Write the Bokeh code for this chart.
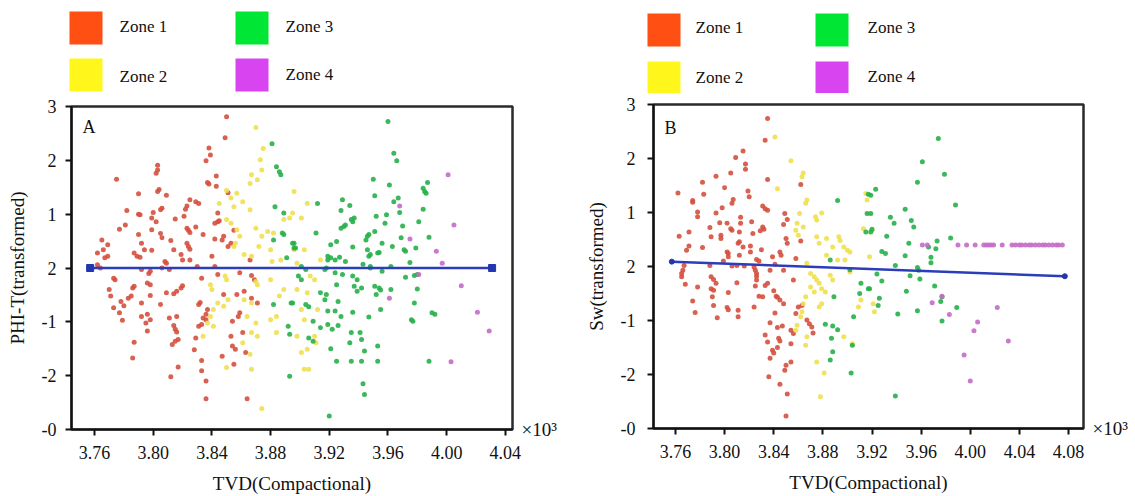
from bokeh.plotting import figure
from bokeh.layouts import row, column
from bokeh.models import Range1d, FixedTicker, PrintfTickFormatter, Label, LinearAxis
from bokeh.embed import file_html
from bokeh.resources import INLINE
from bokeh.core.properties import value

FONT = "Liberation Serif"

zones = ["Zone 1", "Zone 2", "Zone 3", "Zone 4"]
legend_colors = ["#FF4F12", "#FFF71C", "#00E635", "#D845F0"]
point_colors = ["#D5503E", "#F0E04E", "#27B04A", "#C46BC8"]

x_ticks_a = [3.76, 3.80, 3.84, 3.88, 3.92, 3.96, 4.00, 4.04]
x_ticks_b = [3.76, 3.80, 3.84, 3.88, 3.92, 3.96, 4.00, 4.04, 4.08]
y_ticks = [-3, -2, -1, 0, 1, 2, 3]
y_tick_labels = ["-0", "-2", "-1", "2", "1", "2", "3"]
x_scale_note = "×10³"

# ---------------- Panel A : PHI-T(transformed) vs TVD ----------------
a_zone1 = [
    (3.850, 2.81), (3.849, 2.42), (3.838, 2.23), (3.839, 2.10), (3.836, 1.99), (3.803, 1.91),
    (3.803, 1.82), (3.802, 1.76), (3.775, 1.65), (3.837, 1.59), (3.838, 1.56), (3.843, 1.71),
    (3.843, 1.52), (3.804, 1.46), (3.803, 1.42), (3.790, 1.38), (3.809, 1.35), (3.851, 1.40),
    (3.825, 1.27), (3.829, 1.23), (3.831, 1.20), (3.823, 1.15), (3.822, 1.09), (3.806, 1.11),
    (3.805, 1.08), (3.782, 1.07), (3.790, 1.00), (3.791, 0.99), (3.800, 1.03), (3.799, 0.93),
    (3.815, 0.91), (3.821, 0.96), (3.844, 1.02), (3.844, 0.86), (3.842, 0.83), (3.845, 0.88),
    (3.802, 0.86), (3.781, 0.80), (3.777, 0.72), (3.823, 0.74), (3.824, 0.70), (3.825, 0.66),
    (3.829, 0.76), (3.799, 0.71), (3.805, 0.64), (3.806, 0.56), (3.790, 0.62), (3.834, 0.62),
    (3.855, 0.70), (3.848, 0.59), (3.847, 0.52), (3.842, 0.54), (3.812, 0.51), (3.823, 0.46),
    (3.824, 0.40), (3.825, 0.35), (3.853, 0.46), (3.851, 0.40), (3.765, 0.52), (3.766, 0.34),
    (3.769, 0.43), (3.762, 0.28), (3.792, 0.46), (3.794, 0.34), (3.799, 0.33), (3.787, 0.28),
    (3.789, 0.22), (3.791, 0.20), (3.767, 0.19), (3.769, 0.22), (3.814, 0.34), (3.819, 0.25),
    (3.820, 0.15), (3.825, 0.15), (3.840, 0.22), (3.808, 0.12), (3.809, 0.09), (3.830, 0.03),
    (3.842, 0.03), (3.762, 0.06), (3.764, 0.00), (3.792, -0.03), (3.798, -0.06), (3.797, -0.10),
    (3.806, 0.00), (3.811, -0.03), (3.833, -0.19), (3.844, -0.12), (3.859, -0.09), (3.867, -0.14),
    (3.869, -0.22), (3.866, 0.15), (3.773, -0.19), (3.774, -0.22), (3.787, -0.34), (3.786, -0.37),
    (3.796, -0.28), (3.798, -0.31), (3.820, -0.33), (3.819, -0.37), (3.816, -0.43), (3.814, -0.48),
    (3.809, -0.46), (3.770, -0.40), (3.771, -0.52), (3.778, -0.62), (3.780, -0.70), (3.783, -0.56),
    (3.785, -0.52), (3.792, -0.65), (3.798, -0.51), (3.805, -0.68), (3.832, -0.64), (3.831, -0.68),
    (3.837, -0.77), (3.836, -0.86), (3.836, -0.96), (3.848, -0.49), (3.857, -0.49), (3.862, -0.43),
    (3.867, -0.56), (3.871, -0.65), (3.773, -0.74), (3.777, -0.83), (3.779, -0.97), (3.792, -0.90),
    (3.796, -0.86), (3.795, -1.02), (3.798, -0.96), (3.796, -1.17), (3.811, -0.93), (3.816, -0.90),
    (3.814, -1.07), (3.815, -1.14), (3.816, -1.19), (3.817, -1.33), (3.815, -1.36), (3.813, -1.42),
    (3.834, -0.93), (3.833, -1.05), (3.831, -1.08), (3.829, -1.30), (3.854, -0.99), (3.858, -0.90),
    (3.859, -0.83), (3.861, -1.20), (3.853, -1.27), (3.854, -1.45), (3.856, -1.51), (3.863, -1.57),
    (3.787, -1.38), (3.786, -1.67), (3.828, -1.52), (3.847, -1.64), (3.855, -1.79), (3.817, -1.84),
    (3.812, -2.02), (3.833, -1.72), (3.833, -1.91), (3.836, -2.10), (3.836, -2.43), (3.864, -2.43),
]
a_zone2 = [
    (3.870, 2.61), (3.875, 2.22), (3.873, 2.01), (3.874, 1.82), (3.867, 1.73), (3.871, 1.64),
    (3.866, 1.57), (3.850, 1.44), (3.853, 1.30), (3.857, 1.39), (3.861, 1.23), (3.866, 1.08),
    (3.855, 1.14), (3.845, 1.20), (3.850, 0.90), (3.853, 0.83), (3.857, 0.71), (3.859, 0.59),
    (3.856, 0.46), (3.855, 0.40), (3.870, 0.74), (3.878, 0.68), (3.882, 0.65), (3.874, 0.59),
    (3.889, 0.90), (3.893, 0.93), (3.872, 0.40), (3.880, 0.34), (3.887, 0.15), (3.862, 0.25),
    (3.867, 0.22), (3.881, 0.12), (3.849, -0.15), (3.850, -0.22), (3.870, -0.25), (3.871, -0.31),
    (3.839, -0.31), (3.840, -0.40), (3.851, -0.59), (3.862, -0.59), (3.867, -0.65), (3.880, -0.22),
    (3.886, -0.52), (3.889, -0.40), (3.844, -0.65), (3.841, -0.77), (3.848, -0.71), (3.864, -0.90),
    (3.870, -1.02), (3.884, -0.90), (3.839, -0.90), (3.837, -1.02), (3.841, -1.08), (3.834, -1.27),
    (3.867, -1.20), (3.871, -1.27), (3.861, -1.39), (3.866, -1.60), (3.850, -1.85), (3.867, -1.88),
    (3.874, -2.61), (3.880, -0.96), (3.884, -1.20),
    (3.896, 1.42), (3.895, 1.02), (3.901, 0.93), (3.905, 1.20), (3.896, 0.34), (3.903, 0.34),
    (3.898, 0.09), (3.907, -0.15), (3.910, -0.22), (3.914, 0.15), (3.898, -0.40), (3.905, -0.46),
    (3.901, -0.77), (3.903, -0.96), (3.898, -1.27), (3.910, -1.27), (3.911, -1.39), (3.905, -1.51),
    (3.903, -1.88), (3.906, -1.88), (3.912, -0.77), (3.901, -1.57),
]
a_zone3 = [
    (3.881, 2.31), (3.884, 1.88), (3.886, 1.79), (3.887, 1.73), (3.883, 1.14), (3.889, 1.02),
    (3.888, 0.65), (3.889, 0.62), (3.882, 0.52), (3.895, 0.46), (3.896, 0.37), (3.891, 0.19),
    (3.895, -0.65), (3.882, -0.68), (3.892, -1.08), (3.893, -1.23), (3.893, -2.01),
    (3.960, 2.72), (3.964, 2.13), (3.966, 1.99), (3.950, 1.65), (3.961, 1.54), (3.951, 1.34),
    (3.964, 1.23), (3.967, 1.30), (3.912, 1.20), (3.929, 1.27), (3.934, 1.16), (3.928, 1.07),
    (3.968, 1.03), (3.984, 1.48), (3.985, 1.42), (3.986, 1.39), (3.987, 1.59), (3.984, 1.09),
    (3.935, 0.90), (3.937, 0.93), (3.936, 0.86), (3.928, 0.74), (3.930, 0.77), (3.931, 0.80),
    (3.952, 0.96), (3.959, 0.99), (3.958, 0.83), (3.970, 0.78), (3.981, 0.86), (3.911, 0.65),
    (3.946, 0.59), (3.945, 0.52), (3.947, 0.62), (3.951, 0.68), (3.896, 0.46), (3.897, 0.37),
    (3.921, 0.43), (3.919, 0.22), (3.925, 0.49), (3.936, 0.39), (3.946, 0.34), (3.948, 0.25),
    (3.947, 0.22), (3.953, 0.28), (3.954, 0.29), (3.963, 0.40), (3.956, 0.46), (3.969, 0.56),
    (3.971, 0.34), (3.972, 0.31), (3.979, 0.37), (3.988, 0.57), (3.919, 0.15), (3.921, 0.19),
    (3.924, 0.15), (3.927, 0.20), (3.931, 0.12), (3.943, 0.07), (3.948, 0.03), (3.948, 0.00),
    (3.956, -0.06), (3.962, 0.03), (3.975, 0.10), (3.980, -0.12), (3.978, -0.14), (3.972, -0.17),
    (3.901, 0.03), (3.904, -0.03), (3.899, -0.15), (3.901, -0.22), (3.917, -0.03), (3.918, 0.00),
    (3.924, -0.09), (3.929, -0.12), (3.936, -0.15), (3.939, -0.22), (3.937, -0.34), (3.942, -0.37),
    (3.939, -0.43), (3.925, -0.31), (3.951, -0.34), (3.954, -0.37), (3.955, -0.41), (3.952, -0.49),
    (3.962, -0.40), (3.980, -0.39), (3.894, -0.65), (3.904, -0.68), (3.906, -0.72), (3.914, -0.46),
    (3.917, -0.59), (3.918, -0.49), (3.926, -0.62), (3.936, -0.82), (3.947, -0.91), (3.955, -0.77),
    (3.978, -0.65), (3.990, -0.83), (3.992, -0.86), (3.976, -0.96), (3.977, -0.99), (3.909, -0.99),
    (3.914, -1.11), (3.919, -0.80), (3.924, -0.80), (3.919, -1.05), (3.922, -1.14), (3.926, -1.07),
    (3.928, -0.90), (3.906, -1.30), (3.909, -1.36), (3.935, -1.20), (3.941, -1.20), (3.942, -1.33),
    (3.934, -1.39), (3.953, -1.45), (3.944, -1.54), (3.921, -1.50), (3.925, -1.73), (3.935, -1.73),
    (3.942, -1.73), (3.953, -1.73), (3.988, -1.73), (3.943, -2.15), (3.944, -2.35), (3.920, -2.75),
]
a_zone4 = [
    (4.001, 1.73), (4.005, 0.80), (3.968, 1.15), (3.975, 0.54), (3.993, 0.31), (3.997, 0.09),
    (3.981, -0.12), (3.961, -0.56), (4.010, -0.33), (4.021, -0.82), (4.029, -1.17), (4.003, -1.74),
]
fit_a_x = [3.757, 4.031]
fit_a_y = [0.0, 0.0]

# ---------------- Panel B : Sw(transformed) vs TVD ----------------
b_zone1 = [
    (3.835, 2.74), (3.833, 2.34), (3.815, 2.14), (3.809, 2.02), (3.817, 1.90), (3.817, 1.80),
    (3.805, 1.73), (3.793, 1.67), (3.782, 1.56), (3.835, 1.61), (3.762, 1.36), (3.783, 1.34),
    (3.774, 1.22), (3.774, 1.19), (3.800, 1.46), (3.819, 1.40), (3.820, 1.29), (3.807, 1.24),
    (3.806, 1.17), (3.798, 1.09), (3.778, 1.01), (3.778, 0.92), (3.793, 0.99), (3.831, 1.12),
    (3.833, 1.07), (3.835, 1.04), (3.849, 0.98), (3.851, 0.87), (3.848, 0.78), (3.813, 0.91),
    (3.813, 0.80), (3.802, 0.80), (3.796, 0.81), (3.822, 0.83), (3.788, 0.72), (3.789, 0.55),
    (3.771, 0.64), (3.763, 0.56), (3.797, 0.58), (3.797, 0.52), (3.805, 0.70), (3.806, 0.67),
    (3.812, 0.64), (3.831, 0.73), (3.832, 0.69), (3.829, 0.66), (3.823, 0.61), (3.850, 0.52),
    (3.851, 0.43), (3.812, 0.46), (3.811, 0.43), (3.782, 0.35), (3.771, 0.38), (3.769, 0.30),
    (3.802, 0.27), (3.803, 0.24), (3.803, 0.18), (3.815, 0.36), (3.821, 0.38), (3.821, 0.27),
    (3.830, 0.31), (3.845, 0.27), (3.846, 0.21), (3.862, 0.47), (3.858, 0.15), (3.826, 0.13),
    (3.828, 0.10), (3.799, 0.10), (3.812, 0.21), (3.788, 0.02), (3.806, 0.01), (3.810, 0.02),
    (3.816, 0.01), (3.824, -0.01), (3.839, 0.18), (3.841, 0.04), (3.767, 0.02), (3.766, -0.07),
    (3.765, -0.13), (3.765, -0.19), (3.768, -0.33), (3.789, -0.19), (3.791, -0.24), (3.793, -0.31),
    (3.778, -0.38), (3.789, -0.41), (3.791, -0.44), (3.803, -0.48), (3.810, -0.30), (3.825, -0.07),
    (3.826, -0.13), (3.826, -0.18), (3.826, -0.25), (3.825, -0.36), (3.833, -0.35), (3.835, -0.31),
    (3.837, -0.07), (3.848, -0.07), (3.856, -0.25), (3.828, -0.55), (3.831, -0.56), (3.840, -0.45),
    (3.842, -0.55), (3.843, -0.57), (3.845, -0.62), (3.848, -0.69), (3.790, -0.56), (3.774, -0.64),
    (3.791, -0.72), (3.776, -0.85), (3.794, -0.95), (3.802, -0.76), (3.803, -0.80), (3.811, -0.81),
    (3.811, -0.93), (3.824, -0.75), (3.860, -0.75), (3.863, -0.72), (3.858, -0.87), (3.841, -0.86),
    (3.837, -1.04), (3.843, -1.13), (3.847, -1.10), (3.854, -1.18), (3.856, -1.24), (3.867, -0.99),
    (3.869, -1.06), (3.871, -1.12), (3.872, -1.23), (3.833, -1.27), (3.835, -1.40), (3.844, -1.33),
    (3.845, -1.38), (3.854, -1.43), (3.839, -1.55), (3.840, -1.60), (3.837, -1.70), (3.836, -2.04),
    (3.843, -1.50), (3.854, -1.77), (3.850, -1.83), (3.849, -1.92), (3.845, -2.18), (3.851, -2.36),
    (3.850, -2.77), (3.862, 1.52),
]
b_zone2 = [
    (3.841, 2.40), (3.854, 1.96), (3.864, 1.73), (3.863, 1.66), (3.843, 1.44), (3.867, 1.23),
    (3.866, 1.17), (3.861, 0.98), (3.874, 0.92), (3.875, 0.86), (3.879, 0.99), (3.859, 0.80),
    (3.858, 0.67), (3.864, 0.73), (3.860, 0.58), (3.875, 0.55), (3.877, 0.43), (3.883, 0.52),
    (3.893, 0.55), (3.894, 0.48), (3.897, 0.36), (3.900, 0.30), (3.902, 0.27), (3.888, 0.36),
    (3.883, 0.21), (3.892, 0.12), (3.898, 0.12), (3.915, 1.35), (3.916, 1.23), (3.913, 0.70),
    (3.867, 0.06), (3.870, -0.13), (3.873, -0.19), (3.875, -0.25), (3.877, -0.31), (3.879, -0.41),
    (3.882, -0.47), (3.870, -0.38), (3.873, -0.47), (3.866, -0.56), (3.886, -0.16), (3.888, -0.25),
    (3.902, -0.10), (3.864, -0.69), (3.863, -0.84), (3.862, -0.93), (3.879, -0.69), (3.877, -0.75),
    (3.911, -0.62), (3.909, -0.75), (3.859, -1.09), (3.858, -1.18), (3.867, -1.30), (3.866, -1.46),
    (3.897, -1.30), (3.904, -1.43), (3.875, -1.77), (3.881, -1.97), (3.878, -2.41),
    (3.920, 0.67), (3.918, 0.18), (3.921, -0.69), (3.922, -0.84),
]
b_zone3 = [
    (3.892, 1.22), (3.917, 1.34), (3.916, 0.98), (3.915, 0.64), (3.886, 0.12), (3.902, -0.06),
    (3.911, -0.31), (3.910, -0.50), (3.889, -0.56), (3.917, -0.41), (3.905, -0.93), (3.882, -1.07),
    (3.888, -1.10), (3.892, -1.17), (3.887, -1.33), (3.904, -1.46), (3.888, -1.58), (3.886, -1.73),
    (3.903, -1.97),
    (3.974, 2.37), (3.961, 1.94), (3.979, 1.71), (3.957, 1.56), (3.988, 1.14), (3.923, 1.43),
    (3.919, 1.32), (3.919, 0.98), (3.935, 0.91), (3.938, 0.80), (3.947, 1.06), (3.952, 0.85),
    (3.954, 0.73), (3.919, 0.64), (3.920, 0.69), (3.932, 0.56), (3.950, 0.43), (3.973, 0.47),
    (3.972, 0.33), (3.966, 0.36), (3.984, 0.53), (3.928, 0.28), (3.931, 0.24), (3.947, 0.20),
    (3.968, 0.17), (3.968, 0.07), (3.939, 0.02), (3.957, -0.02), (3.958, -0.07), (3.924, -0.14),
    (3.928, -0.27), (3.951, -0.17), (3.959, -0.23), (3.918, -0.41), (3.971, -0.36), (3.948, -0.46),
    (3.926, -0.59), (3.925, -0.72), (3.976, -0.65), (3.977, -0.56), (3.989, -0.76), (3.941, -0.88),
    (3.957, -0.82), (3.977, -1.01), (3.939, -2.40),
]
b_zone4 = [
    (3.961, 0.40), (3.965, 0.40), (3.990, 0.40), (3.997, 0.40), (4.004, 0.40), (4.011, 0.40),
    (4.013, 0.40), (4.015, 0.40), (4.017, 0.40), (4.019, 0.40), (4.026, 0.40), (4.034, 0.40),
    (4.037, 0.40), (4.040, 0.40), (4.042, 0.40), (4.045, 0.40), (4.048, 0.40), (4.050, 0.40),
    (4.053, 0.40), (4.056, 0.40), (4.059, 0.40), (4.061, 0.40), (4.064, 0.40), (4.067, 0.40),
    (4.070, 0.40), (4.072, 0.40), (4.075, 0.40),
    (3.977, -0.55), (3.969, -0.67), (3.983, -0.89), (4.022, -0.76), (4.006, -1.03), (4.003, -1.19),
    (4.031, -1.38), (3.995, -1.64), (4.000, -2.12),
]
fit_b_x = [3.757, 4.077]
fit_b_y = [0.09, -0.18]

LEG_H = 93


def legend_figure(width, sq_left, sq_top, txt_x, txt_y):
    lf = figure(width=width, height=LEG_H, x_range=Range1d(0, width), y_range=Range1d(LEG_H, 0),
                toolbar_location=None, output_backend="svg", min_border=0, frame_align=False)
    lf.axis.visible = False
    lf.grid.visible = False
    lf.outline_line_color = None
    size = 33
    lf.quad(left=sq_left, right=[v + size for v in sq_left], top=sq_top,
            bottom=[v + size for v in sq_top], fill_color=legend_colors, line_color=None)
    lf.text(x=txt_x, y=txt_y, text=zones, text_font=value(FONT), text_font_size="17px",
            text_baseline="middle", text_align="left", text_color="#111111")
    return lf


def panel(width, xr, xticks, borders, ylabel, tag, tag_y, data, fit_x, fit_y, end_marker, end_size,
          tick_standoff_y, label_standoff_y):
    p = figure(width=width, height=496 - LEG_H, x_range=Range1d(*xr), y_range=Range1d(-3, 3),
               toolbar_location=None, output_backend="svg", frame_align=False,
               min_border_left=borders[0], min_border_right=borders[1],
               min_border_top=borders[2], min_border_bottom=borders[3])
    p.grid.visible = False
    p.outline_line_color = "#2a2a2a"
    p.outline_line_width = 2.5

    note_axis = LinearAxis(ticker=FixedTicker(ticks=[-3]),
                           major_label_overrides={-3: x_scale_note})
    p.add_layout(note_axis, "right")

    for ax in (p.xaxis[0], p.yaxis[0]):
        ax.axis_line_width = 2
        ax.axis_line_color = "#111111"
        ax.major_tick_line_width = 2
        ax.major_tick_line_color = "#111111"
        ax.major_tick_out = 6
        ax.major_tick_in = 0
        ax.minor_tick_line_color = None
        ax.major_label_text_font = FONT
        ax.major_label_text_font_size = "18px"
        ax.major_label_text_color = "#111111"
        ax.axis_label_text_font = FONT
        ax.axis_label_text_font_size = "19px"
        ax.axis_label_text_font_style = "normal"
        ax.axis_label_text_color = "#111111"

    note_axis.axis_line_color = None
    note_axis.major_tick_line_color = None
    note_axis.minor_tick_line_color = None
    note_axis.major_tick_out = 0
    note_axis.major_tick_in = 0
    note_axis.major_label_standoff = 9
    note_axis.major_label_text_font = FONT
    note_axis.major_label_text_font_size = "19px"
    note_axis.major_label_text_color = "#111111"

    p.xaxis[0].ticker = FixedTicker(ticks=xticks)
    p.xaxis[0].formatter = PrintfTickFormatter(format="%.2f")
    p.xaxis[0].major_label_standoff = 10
    p.xaxis[0].axis_label = "TVD(Compactional)"
    p.xaxis[0].axis_label_standoff = 11
    p.yaxis[0].ticker = FixedTicker(ticks=y_ticks)
    p.yaxis[0].major_label_overrides = {t: s for t, s in zip(y_ticks, y_tick_labels)}
    p.yaxis[0].major_label_standoff = tick_standoff_y
    p.yaxis[0].axis_label = ylabel
    p.yaxis[0].axis_label_standoff = label_standoff_y

    for pts, col in zip(data, point_colors):
        xs = [q[0] for q in pts]
        ys = [q[1] for q in pts]
        p.scatter(xs, ys, size=5, fill_color=col, line_color=None, fill_alpha=0.9)

    p.line(fit_x, fit_y, line_color="#2B3DBA", line_width=2.5)
    p.scatter(fit_x, fit_y, marker=end_marker, size=end_size, fill_color="#2236B0", line_color="#2236B0")

    p.add_layout(Label(x=xr[0], y=tag_y, x_offset=11, text=tag, text_font=FONT, text_font_size="18px",
                       text_baseline="middle", text_color="#111111"))
    return p


legA = legend_figure(567, [69, 69, 235, 235], [11, 58, 11, 58], [119, 119, 285, 285], [26, 76, 26, 74])
legB = legend_figure(568, [80, 80, 248, 248], [13, 61, 13, 61], [128, 128, 300, 300], [27, 77, 27, 76])

pA = panel(567, (3.7443, 4.0449), x_ticks_a, (71, 55, 106 - LEG_H, 66), "PHI-T(transformed)", "A", 2.62,
           [a_zone1, a_zone2, a_zone3, a_zone4], fit_a_x, fit_a_y, "square", 7, 9, 11)
pB = panel(568, (3.7421, 4.0922), x_ticks_b, (86, 52, 104 - LEG_H, 68), "Sw(transformed)", "B", 2.57,
           [b_zone1, b_zone2, b_zone3, b_zone4], fit_b_x, fit_b_y, "circle", 5, 12, 11)

layout = row(column(legA, pA), column(legB, pB))

with open("out.html", "w") as f:
    f.write(file_html(layout, INLINE))
